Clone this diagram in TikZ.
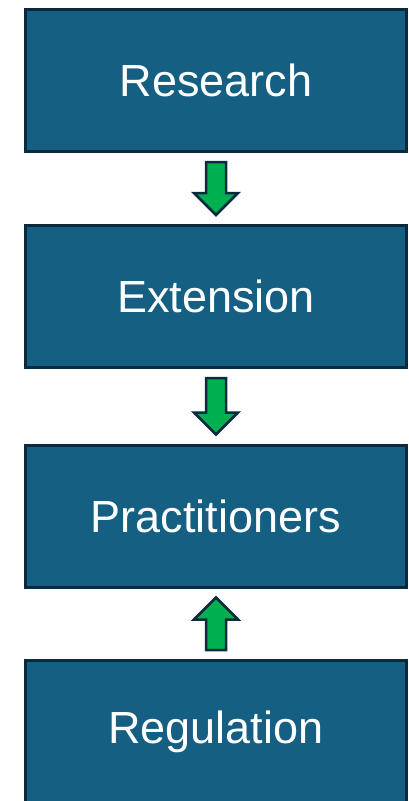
\documentclass[tikz,border=0pt]{standalone}
\usepackage{fontspec}
\setmainfont{Liberation Sans}
\usepackage{tikz}
\usetikzlibrary{calc}

\definecolor{boxfill}{HTML}{156082}
\definecolor{boxline}{HTML}{0B2A3D}
\definecolor{arrowgreen}{HTML}{00B050}

\tikzset{
  stage/.style={draw=boxline, line width=3pt, fill=boxfill, text=white,
    minimum width=381pt, minimum height=142pt, inner sep=0pt,
    font=\fontsize{45}{45}\selectfont},
  flow/.style={draw=boxline, line width=2.5pt, fill=arrowgreen, line join=miter}
}

% block arrow from #1 to #2 (tip at #2)
\newcommand{\flowarrow}[2]{%
  \coordinate (fa-s) at ($(#1)!9pt!(#2)$);
  \coordinate (fa-e) at ($(#2)!9pt!(#1)$);
  \coordinate (fa-h) at ($(fa-e)!22pt!(fa-s)$);
  \draw[flow] ($(fa-s)!10pt!90:(fa-e)$) -- ($(fa-h)!10pt!-90:(fa-s)$)
    -- ($(fa-h)!22pt!-90:(fa-s)$) -- (fa-e)
    -- ($(fa-h)!22pt!90:(fa-s)$) -- ($(fa-h)!10pt!90:(fa-s)$)
    -- ($(fa-s)!10pt!-90:(fa-e)$) -- cycle;
}

\begin{document}
\begin{tikzpicture}
\useasboundingbox (0,0) rectangle (408pt,-801pt);

\node[stage] (research) at (216pt,-80.5pt) {Research};
\node[stage] (extension) at (216pt,-296.5pt) {Extension};
\node[stage] (practitioners) at (216pt,-516pt) {Practitioners};
\node[stage] (regulation) at (216pt,-731.5pt) {Regulation};

\flowarrow{research.south}{extension.north}
\flowarrow{extension.south}{practitioners.north}
\flowarrow{regulation.north}{practitioners.south}
\end{tikzpicture}
\end{document}
